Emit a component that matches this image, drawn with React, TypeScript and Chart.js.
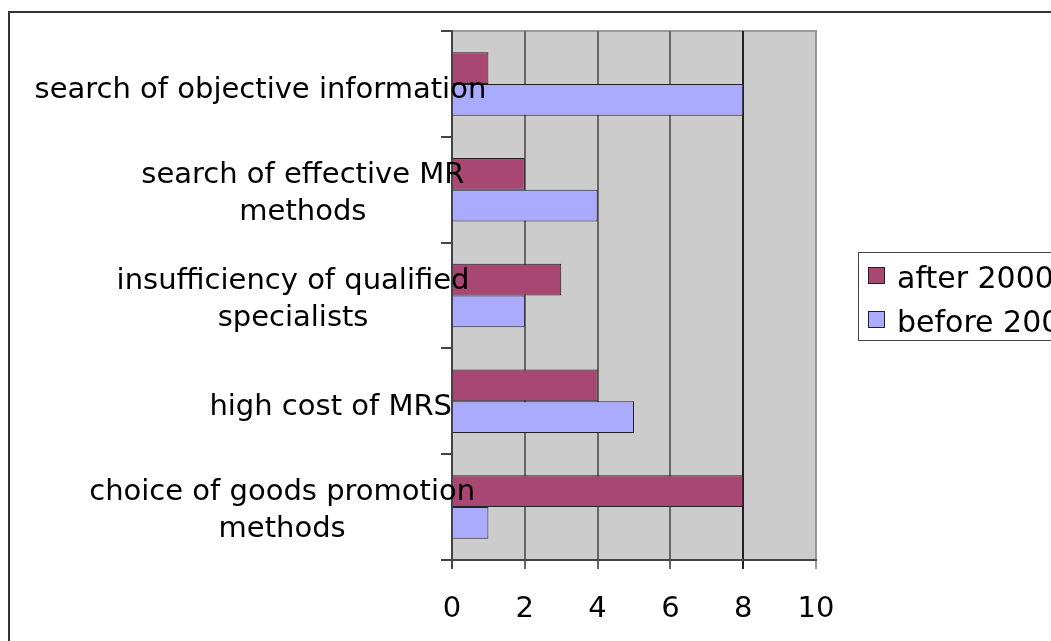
import { useEffect, useRef } from 'react';
import { Chart, registerables } from 'chart.js';

Chart.register(...registerables);

const categories: string[][] = [
  ['search of objective information'],
  ['search of effective MR', 'methods'],
  ['insufficiency of qualified', 'specialists'],
  ['high cost of MRS'],
  ['choice of goods promotion', 'methods'],
];
const seriesNames = ['after 2000', 'before 2000'];
const afterValues = [1, 2, 3, 4, 8];
const beforeValues = [8, 4, 2, 5, 1];
const xMin = 0;
const xMax = 10;
const xStep = 2;

const FONT = '"DejaVu Sans", Verdana, sans-serif';
const W = 1150;
const H = 640;
const AFTER_COLOR = '#A94773';
const BEFORE_COLOR = '#AAAAFF';

const plotBg = {
  id: 'plotBg',
  beforeDraw(chart: any) {
    const { ctx, chartArea: a } = chart;
    ctx.save();
    ctx.fillStyle = '#CCCCCC';
    ctx.fillRect(a.left, a.top, a.right - a.left, a.bottom - a.top);
    ctx.strokeStyle = '#999999';
    ctx.lineWidth = 2;
    ctx.beginPath();
    ctx.moveTo(a.left, a.top);
    ctx.lineTo(a.right, a.top);
    ctx.lineTo(a.right, a.bottom);
    ctx.stroke();
    ctx.restore();
  },
};

const categoryLabels = {
  id: 'categoryLabels',
  afterDatasetsDraw(chart: any) {
    const { ctx, chartArea: a } = chart;
    const yScale = chart.scales.y;
    ctx.save();
    ctx.font = `29px ${FONT}`;
    ctx.fillStyle = '#000';
    ctx.textAlign = 'center';
    ctx.textBaseline = 'alphabetic';
    categories.forEach((lines, idx) => {
      const yc = yScale.getPixelForValue(idx);
      const maxW = Math.max(...lines.map((l) => ctx.measureText(l).width));
      const cx = a.left - maxW / 2 + Math.max(0, maxW - 250) * 0.17;
      const base = lines.length === 1 ? 14 : 11.5;
      lines.forEach((line, i) => {
        ctx.fillText(line, cx, yc + base + (i - (lines.length - 1) / 2) * 37);
      });
    });
    ctx.restore();
  },
};

const boxLegend = {
  id: 'boxLegend',
  afterDraw(chart: any) {
    const { ctx, chartArea: a } = chart;
    const cy = (a.top + a.bottom) / 2;
    const bx = a.right + 42;
    const by = Math.round(cy - 44);
    ctx.save();
    ctx.strokeStyle = '#444';
    ctx.lineWidth = 1;
    ctx.strokeRect(bx + 0.5, by + 0.5, 400, 88);
    ctx.font = `30px ${FONT}`;
    ctx.textAlign = 'left';
    ctx.textBaseline = 'alphabetic';
    chart.data.datasets.forEach((ds: any, i: number) => {
      const sy = by + 15 + i * 44;
      ctx.fillStyle = ds.backgroundColor;
      ctx.fillRect(bx + 10, sy, 17, 17);
      ctx.strokeStyle = '#222';
      ctx.strokeRect(bx + 10.5, sy + 0.5, 16, 16);
      ctx.fillStyle = '#000';
      ctx.fillText(ds.label, bx + 39, by + 36 + i * 44);
    });
    ctx.restore();
  },
};

export default function App() {
  const ref = useRef<HTMLCanvasElement>(null);

  useEffect(() => {
    const chart = new Chart(ref.current as HTMLCanvasElement, {
      type: 'bar',
      data: {
        labels: categories.map((c) => c.join(' ')),
        datasets: [
          {
            label: seriesNames[0],
            data: afterValues,
            backgroundColor: AFTER_COLOR,
            borderColor: '#222',
            borderWidth: 1,
            categoryPercentage: 0.6,
            barPercentage: 1,
          },
          {
            label: seriesNames[1],
            data: beforeValues,
            backgroundColor: BEFORE_COLOR,
            borderColor: '#222',
            borderWidth: 1,
            categoryPercentage: 0.6,
            barPercentage: 1,
          },
        ],
      },
      options: {
        indexAxis: 'y',
        responsive: false,
        animation: false,
        devicePixelRatio: 1,
        layout: { padding: { top: 18, left: 0, right: W - 806, bottom: 0 } },
        plugins: { legend: { display: false }, tooltip: { enabled: false } },
        scales: {
          x: {
            type: 'linear',
            min: xMin,
            max: xMax,
            ticks: {
              stepSize: xStep,
              color: '#000',
              font: { family: FONT, size: 29 },
              padding: 23,
            },
            grid: {
              color: (c: any) => {
                const v = c.tick ? c.tick.value : null;
                if (v === 10) return '#999999';
                if (v === 8) return '#222222';
                if (v === 0) return '#444444';
                return '#666666';
              },
              lineWidth: 2,
              tickLength: 9,
              drawTicks: true,
            },
            border: { display: true, color: '#444', width: 2 },
            afterFit(s: any) {
              s.height = H - 547;
            },
          },
          y: {
            type: 'category',
            offset: true,
            grid: {
              offset: true,
              drawOnChartArea: false,
              drawTicks: true,
              tickLength: 11,
              color: '#444',
              lineWidth: 2,
            },
            ticks: { display: false },
            border: { display: true, color: '#444', width: 2 },
            afterFit(s: any) {
              s.width = 442;
            },
          },
        },
      },
      plugins: [plotBg, categoryLabels, boxLegend],
    } as any);
    return () => chart.destroy();
  }, []);

  return (
    <div
      style={{
        position: 'fixed',
        left: 0,
        top: 0,
        width: 1051,
        height: 641,
        overflow: 'hidden',
        background: '#fff',
      }}
    >
      <div
        style={{
          position: 'absolute',
          left: 8,
          top: 11,
          width: W,
          height: H,
          border: '2px solid #333',
        }}
      >
        <canvas ref={ref} width={W} height={H} style={{ display: 'block', width: W, height: H }} />
      </div>
    </div>
  );
}
